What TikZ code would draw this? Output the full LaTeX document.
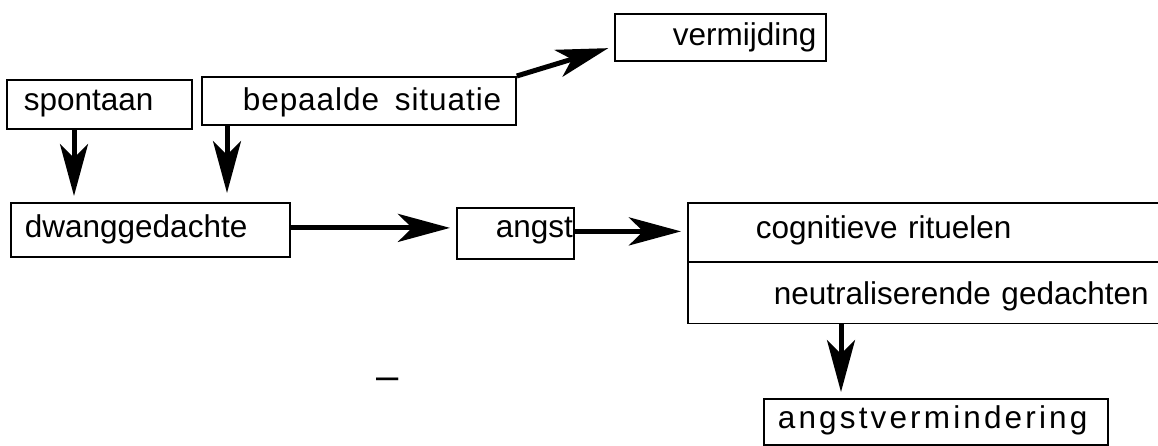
\documentclass[tikz,border=0pt]{standalone}
\usepackage{fontspec}
\setmainfont{Liberation Sans}
\usetikzlibrary{arrows.meta,shapes.multipart}
\setlength{\parindent}{0pt}
% invisible rule fixing the height above and depth below the baseline
\newcommand{\tallstrut}[2]{\rule[-#2pt]{0pt}{\dimexpr #1pt+#2pt\relax}}
\begin{document}
\begin{tikzpicture}[x=1pt,y=-1pt,
  every node/.style={font=\fontsize{31.5pt}{36pt}\selectfont},
  box/.style={draw, line width=1.8pt, anchor=north west,
    inner xsep=0pt, inner ysep=0pt, align=left},
  flow/.style={line width=5pt,
    -{Stealth[length=52pt,width=28pt,inset=14pt]}, shorten >=6pt}]
\clip (0,0) rectangle (1158,446);

% boxes
\node[box, text width=185pt] (spon) at (6,79)
  {\hspace*{17pt}\tallstrut{31}{18}spontaan};
\node[box, text width=314pt] (bep) at (201,76)
  {\hspace*{41pt}\tallstrut{34}{14}{\addfontfeatures{LetterSpace=3}bepaalde\hspace{0.5em}situatie}};
\node[box, text width=211pt] (verm) at (614,13)
  {\hspace*{58pt}\tallstrut{32}{15}vermijding};
\node[box, text width=279pt] (dwang) at (10,202)
  {\hspace*{14pt}\tallstrut{35}{19}dwanggedachte};
\node[box, text width=117pt] (angst) at (456,207)
  {\hspace*{39pt}\tallstrut{30}{21}angst};
\node[box, rectangle split, rectangle split parts=2, text width=500pt] (cog) at (687,202)
  {\hspace*{68pt}\tallstrut{35}{22}cognitieve rituelen%
   \nodepart{two}\hspace*{86pt}\tallstrut{42}{18}neutraliserende gedachten};
\node[box, text width=344pt] (av) at (763,398)
  {\hspace*{14pt}\tallstrut{30}{16}{\addfontfeatures{LetterSpace=10}angstvermindering}};

% stray dash below the chain
\node[font=\fontsize{40pt}{44pt}\selectfont, anchor=base, inner sep=0pt] (dash) at (388,389) {–};

% connectors
\draw[flow] ([xshift=68pt]spon.south west) -- ([xshift=68pt]spon.south west |- dwang.north);
\draw[flow, shorten >=9pt] ([xshift=26pt]bep.south west) -- ([xshift=26pt]bep.south west |- dwang.north);
\draw[flow] (bep.north east) -- ([yshift=-9pt]verm.west);
\draw[flow] ([yshift=2pt]dwang.east) -- ([yshift=2pt]dwang.east -| angst.west);
\draw[flow] ([yshift=2pt]angst.east) -- ([yshift=2pt]angst.east -| cog.west);
\draw[flow] ([xshift=78pt]av.north west |- cog.south) -- ([xshift=78pt]av.north west);
\end{tikzpicture}
\end{document}
